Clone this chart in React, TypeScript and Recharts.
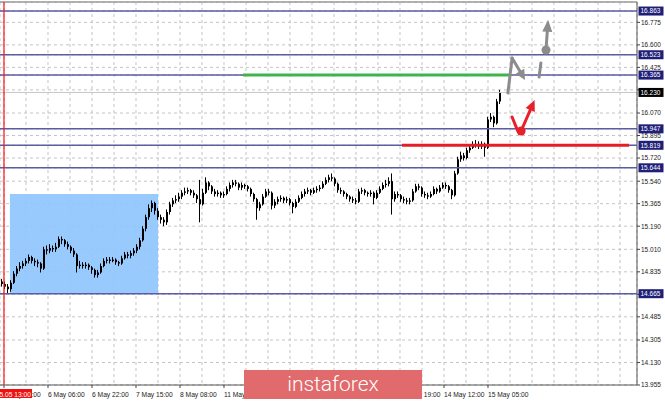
import React from 'react';
import {
  ComposedChart,
  Bar,
  XAxis,
  YAxis,
  CartesianGrid,
  ReferenceLine,
  ReferenceArea,
  ReferenceDot,
} from 'recharts';

// ---- candle data (hourly bars) ----
const opens = [
  14.76, 14.74, 14.72, 14.70, 14.75, 14.82, 14.86, 14.88, 14.90, 14.92,
  14.95, 14.92, 14.91, 14.90, 14.86, 15.01, 15.00, 15.02, 15.01, 15.03,
  15.09, 15.08, 15.05, 15.03, 15.00, 14.97, 14.88, 14.89, 14.88, 14.89,
  14.87, 14.85, 14.81, 14.83, 14.88, 14.92, 14.93, 14.92, 14.93, 14.91,
  14.90, 14.94, 14.97, 14.96, 14.98, 15.00, 15.03, 15.08, 15.17, 15.26,
  15.33, 15.37, 15.31, 15.26, 15.24, 15.22, 15.30, 15.36, 15.39, 15.40,
  15.42, 15.45, 15.46, 15.47, 15.45, 15.43, 15.40, 15.36, 15.45, 15.53,
  15.50, 15.46, 15.44, 15.45, 15.43, 15.44, 15.48, 15.51, 15.53, 15.52,
  15.49, 15.51, 15.50, 15.48, 15.44, 15.40, 15.33, 15.36, 15.42, 15.46,
  15.45, 15.35, 15.38, 15.40, 15.41, 15.39, 15.40, 15.37, 15.34, 15.38,
  15.41, 15.44, 15.46, 15.47, 15.45, 15.47, 15.48, 15.49, 15.52, 15.55,
  15.57, 15.56, 15.52, 15.47, 15.46, 15.44, 15.42, 15.40, 15.39, 15.38,
  15.46, 15.47, 15.45, 15.44, 15.45, 15.41, 15.45, 15.48, 15.51, 15.52,
  15.54, 15.40, 15.44, 15.43, 15.40, 15.39, 15.38, 15.39, 15.46, 15.50,
  15.49, 15.44, 15.43, 15.42, 15.44, 15.48, 15.46, 15.49, 15.51, 15.50,
  15.47, 15.43, 15.60, 15.71, 15.74, 15.72, 15.78, 15.80, 15.82, 15.83,
  15.81, 15.83, 15.80, 16.02, 16.04, 15.99, 16.16,
];
const highs = [
  14.78, 14.76, 14.74, 14.77, 14.84, 14.88, 14.91, 14.92, 14.94, 14.97,
  14.96, 14.94, 14.93, 14.91, 15.03, 15.04, 15.05, 15.04, 15.06, 15.11,
  15.11, 15.09, 15.07, 15.04, 15.02, 14.98, 14.92, 14.91, 14.91, 14.90,
  14.88, 14.86, 14.85, 14.90, 14.94, 14.95, 14.95, 14.95, 14.94, 14.92,
  14.96, 14.99, 14.99, 15.00, 15.02, 15.05, 15.10, 15.19, 15.28, 15.36,
  15.39, 15.38, 15.33, 15.28, 15.26, 15.32, 15.38, 15.41, 15.43, 15.45,
  15.47, 15.49, 15.49, 15.48, 15.47, 15.44, 15.55, 15.48, 15.57, 15.54,
  15.51, 15.48, 15.47, 15.46, 15.46, 15.50, 15.53, 15.55, 15.55, 15.53,
  15.53, 15.52, 15.51, 15.49, 15.45, 15.41, 15.38, 15.44, 15.48, 15.48,
  15.46, 15.40, 15.42, 15.43, 15.42, 15.42, 15.41, 15.38, 15.40, 15.43,
  15.46, 15.48, 15.49, 15.48, 15.49, 15.50, 15.51, 15.54, 15.57, 15.59,
  15.60, 15.57, 15.53, 15.49, 15.47, 15.45, 15.43, 15.42, 15.41, 15.48,
  15.49, 15.48, 15.46, 15.47, 15.46, 15.47, 15.50, 15.53, 15.55, 15.57,
  15.60, 15.46, 15.46, 15.44, 15.42, 15.41, 15.41, 15.48, 15.52, 15.52,
  15.50, 15.46, 15.45, 15.46, 15.50, 15.49, 15.51, 15.53, 15.53, 15.51,
  15.48, 15.62, 15.73, 15.77, 15.76, 15.80, 15.82, 15.85, 15.86, 15.85,
  15.85, 15.84, 16.04, 16.07, 16.05, 16.18, 16.25,
];
const lows = [
  14.72, 14.70, 14.67, 14.68, 14.74, 14.80, 14.84, 14.86, 14.88, 14.90,
  14.90, 14.88, 14.87, 14.83, 14.85, 14.97, 14.98, 14.99, 14.99, 15.02,
  15.05, 15.03, 15.01, 14.98, 14.95, 14.83, 14.86, 14.86, 14.86, 14.85,
  14.82, 14.79, 14.79, 14.82, 14.87, 14.90, 14.90, 14.91, 14.89, 14.88,
  14.89, 14.93, 14.94, 14.94, 14.96, 14.98, 15.01, 15.07, 15.15, 15.24,
  15.30, 15.28, 15.24, 15.21, 15.19, 15.20, 15.28, 15.34, 15.37, 15.38,
  15.40, 15.43, 15.44, 15.43, 15.41, 15.37, 15.22, 15.35, 15.44, 15.47,
  15.44, 15.42, 15.42, 15.41, 15.41, 15.43, 15.46, 15.49, 15.50, 15.47,
  15.47, 15.48, 15.46, 15.42, 15.38, 15.24, 15.31, 15.35, 15.41, 15.43,
  15.32, 15.33, 15.36, 15.38, 15.37, 15.37, 15.35, 15.29, 15.33, 15.37,
  15.40, 15.42, 15.44, 15.43, 15.44, 15.45, 15.46, 15.48, 15.51, 15.53,
  15.54, 15.50, 15.45, 15.44, 15.42, 15.40, 15.38, 15.37, 15.36, 15.37,
  15.44, 15.43, 15.42, 15.42, 15.36, 15.40, 15.44, 15.47, 15.49, 15.50,
  15.28, 15.38, 15.41, 15.38, 15.37, 15.36, 15.36, 15.38, 15.45, 15.47,
  15.42, 15.41, 15.40, 15.41, 15.43, 15.44, 15.45, 15.48, 15.48, 15.45,
  15.40, 15.42, 15.59, 15.69, 15.70, 15.71, 15.76, 15.79, 15.80, 15.79,
  15.79, 15.73, 15.79, 16.00, 15.96, 15.98, 16.14,
];
const closes = [
  14.74, 14.72, 14.70, 14.75, 14.82, 14.86, 14.88, 14.90, 14.92, 14.95,
  14.92, 14.91, 14.90, 14.86, 15.01, 15.00, 15.02, 15.01, 15.03, 15.09,
  15.08, 15.05, 15.03, 15.00, 14.97, 14.88, 14.89, 14.88, 14.89, 14.87,
  14.85, 14.81, 14.83, 14.88, 14.92, 14.93, 14.92, 14.93, 14.91, 14.90,
  14.94, 14.97, 14.96, 14.98, 15.00, 15.03, 15.08, 15.17, 15.26, 15.33,
  15.37, 15.31, 15.26, 15.24, 15.22, 15.30, 15.36, 15.39, 15.40, 15.42,
  15.45, 15.46, 15.47, 15.45, 15.43, 15.40, 15.36, 15.45, 15.53, 15.50,
  15.46, 15.44, 15.45, 15.43, 15.44, 15.48, 15.51, 15.53, 15.52, 15.49,
  15.51, 15.50, 15.48, 15.44, 15.40, 15.33, 15.36, 15.42, 15.46, 15.45,
  15.35, 15.38, 15.40, 15.41, 15.39, 15.40, 15.37, 15.34, 15.38, 15.41,
  15.44, 15.46, 15.47, 15.45, 15.47, 15.48, 15.49, 15.52, 15.55, 15.57,
  15.56, 15.52, 15.47, 15.46, 15.44, 15.42, 15.40, 15.39, 15.38, 15.46,
  15.47, 15.45, 15.44, 15.45, 15.41, 15.45, 15.48, 15.51, 15.52, 15.54,
  15.40, 15.44, 15.43, 15.40, 15.39, 15.38, 15.39, 15.46, 15.50, 15.49,
  15.44, 15.43, 15.42, 15.44, 15.48, 15.46, 15.49, 15.51, 15.50, 15.47,
  15.43, 15.60, 15.71, 15.74, 15.72, 15.78, 15.80, 15.82, 15.83, 15.81,
  15.83, 15.80, 16.02, 16.04, 15.99, 16.16, 16.23,
];

// ---- axis ticks / labels (labels fully hidden by the logo in the reference are blank) ----
const xLabels = [
  '5 May 14:00', '6 May 06:00', '6 May 22:00', '7 May 15:00', '8 May 08:00',
  '11 May 01:00', '', '', '', '13 May 19:00',
  '14 May 12:00', '15 May 05:00',
];
const crosshairLabel = '05.05 13:00';
const yGridTicks = [13.955, 14.13, 14.305, 14.485, 14.66, 14.835, 15.01, 15.19, 15.365, 15.54, 15.72, 15.895, 16.07, 16.25, 16.425, 16.6, 16.775];
const yGridLabels = ['13.955', '14.130', '14.305', '14.485', '', '14.835', '15.010', '15.190', '15.365', '15.540', '15.720', '15.895', '16.070', '', '16.425', '16.600', '16.775'];
const levels = [16.863, 16.523, 16.365, 15.947, 15.819, 15.644, 14.665];
const levelLabels = ['16.863', '16.523', '16.365', '15.947', '15.819', '15.644', '14.665'];
const bidPrice = 16.23;
const bidLabel = '16.230';

// ---- annotations (bar index units / price) ----
const rangeBox = { x1: 2.8, x2: 52.2, y1: 14.665, y2: 15.44 };
const greenLevel = { x1: 80.5, x2: 169.5, y: 16.365 };
const redLevel = { x1: 133.5, x2: 209.2, y: 15.819 };
const grayPath = [
  { x: 168.8, y: 16.226 },
  { x: 170.2, y: 16.498 },
  { x: 174.5, y: 16.327 },
];
const grayDash = [
  { x: 179.2, y: 16.35 },
  { x: 179.8, y: 16.459 },
];
const grayDot = { x: 181.5, y: 16.56 };
const grayArrowTip = { x: 182.2, y: 16.795 };
const redV = [
  { x: 170.2, y: 16.039 },
  { x: 172.0, y: 15.935 },
];
const redDot = { x: 173.2, y: 15.93 };
const redArrowTip = { x: 177.7, y: 16.171 };

const X_MIN = -0.5;
const X_MAX = 211.8333;
const Y_MIN = 13.955;
const Y_MAX = 16.9333;
const xTicks = Array.from({ length: 29 }, (_, k) => 0.8333 + (k * 22) / 3);

const candles = closes.map((c, i) => ({
  i,
  o: opens[i],
  h: highs[i],
  l: lows[i],
  c,
  range: [lows[i], highs[i]],
}));

const FONT = '"Liberation Sans", Arial, sans-serif';
const GRAY = '#8c8c8c';
const RED = '#e8202a';

const Candle = (props: any) => {
  const { x, y, width, height, payload } = props;
  if (!payload || x == null || y == null) return null;
  const top = Math.min(y, y + height);
  const hgt = Math.abs(height);
  const span = payload.h - payload.l;
  const k = span > 0 ? hgt / span : 0;
  const cx = x + width / 2;
  const yo = top + (payload.h - payload.o) * k;
  const yc = top + (payload.h - payload.c) * k;
  const bTop = Math.min(yo, yc);
  const bH = Math.max(1, Math.abs(yc - yo));
  return (
    <g>
      <line x1={cx} x2={cx} y1={top} y2={top + hgt} stroke="#000" strokeWidth={1} />
      <rect x={cx - 0.5} y={bTop} width={2} height={bH} fill="#000" />
    </g>
  );
};

const arrowShape = (color: string, headLen: number, headHalf: number) => (props: any) => {
  const { x1, y1, x2, y2 } = props;
  if ([x1, y1, x2, y2].some((v) => v == null || isNaN(v))) return null;
  const ang = Math.atan2(y2 - y1, x2 - x1);
  const cs = Math.cos(ang);
  const sn = Math.sin(ang);
  const bx = x2 - headLen * cs;
  const by = y2 - headLen * sn;
  const pts = `${x2},${y2} ${bx - headHalf * sn},${by + headHalf * cs} ${bx + headHalf * sn},${by - headHalf * cs}`;
  return (
    <g>
      <line x1={x1} y1={y1} x2={bx} y2={by} stroke={color} strokeWidth={3} strokeLinecap="round" />
      <polygon points={pts} fill={color} />
    </g>
  );
};

const plainShape = (color: string) => (props: any) => {
  const { x1, y1, x2, y2 } = props;
  if ([x1, y1, x2, y2].some((v) => v == null || isNaN(v))) return null;
  return <line x1={x1} y1={y1} x2={x2} y2={y2} stroke={color} strokeWidth={3} strokeLinecap="round" />;
};

const XTick = (props: any) => {
  const { x, y, index } = props;
  if (index % 2 !== 0) return null;
  const label = xLabels[index / 2];
  if (label === undefined) return null;
  return (
    <g>
      <line x1={x} x2={x} y1={y} y2={y + 3} stroke="#444" strokeWidth={1} />
      {label && (
        <text x={x} y={y + 11.5} fontSize={6.7} fontFamily={FONT} fill="#222" textAnchor="start">
          {label}
        </text>
      )}
      {index === 0 && (
        <g>
          <rect x={0} y={y + 4} width={32} height={9} fill="#f01010" />
          <text x={31} y={y + 11.5} fontSize={6.7} fontFamily={FONT} fill="#fff" textAnchor="end">
            {crosshairLabel}
          </text>
        </g>
      )}
    </g>
  );
};

const YTick = (props: any) => {
  const { x, y, payload } = props;
  const v = payload && payload.value;
  const li = levels.findIndex((l) => Math.abs(l - v) < 1e-6);
  if (li >= 0) {
    return (
      <g>
        <rect x={x + 1.5} y={y - 4.5} width={25} height={9} fill="#1f1f78" />
        <text x={x + 3.5} y={y + 2.4} fontSize={6.5} fontFamily={FONT} fill="#fff">
          {levelLabels[li]}
        </text>
      </g>
    );
  }
  if (Math.abs(v - bidPrice) < 1e-6) {
    return (
      <g>
        <rect x={x + 1.5} y={y - 4.5} width={25} height={9} fill="#000" />
        <text x={x + 3.5} y={y + 2.4} fontSize={6.5} fontFamily={FONT} fill="#fff">
          {bidLabel}
        </text>
      </g>
    );
  }
  const gi = yGridTicks.findIndex((t) => Math.abs(t - v) < 1e-6);
  const label = gi >= 0 ? yGridLabels[gi] : '';
  return (
    <g>
      <line x1={x} x2={x + 3} y1={y} y2={y} stroke="#444" strokeWidth={1} />
      {label && (
        <text x={x + 4} y={y + 2.4} fontSize={6.5} fontFamily={FONT} fill="#222">
          {label}
        </text>
      )}
    </g>
  );
};

export default function App() {
  const yTicks = [...yGridTicks, ...levels, bidPrice];
  return (
    <div style={{ position: 'absolute', left: 0, top: 0, width: 665, height: 401, background: '#fff', overflow: 'hidden' }}>
      <ComposedChart
        width={665}
        height={401}
        data={candles}
        margin={{ top: 2, right: 0, bottom: 0, left: 0 }}
      >
        <CartesianGrid stroke="#c4c4c4" strokeDasharray="3 3" />
        <XAxis
          type="number"
          dataKey="i"
          domain={[X_MIN, X_MAX]}
          ticks={xTicks}
          interval={0}
          tickSize={0}
          tickMargin={0}
          tickLine={false}
          axisLine={{ stroke: '#555' }}
          tick={(p: any) => <XTick {...p} />}
          height={16}
          allowDataOverflow
        />
        <YAxis
          orientation="right"
          type="number"
          domain={[Y_MIN, Y_MAX]}
          ticks={yTicks}
          interval={0}
          tickSize={0}
          tickMargin={0}
          tickLine={false}
          axisLine={{ stroke: '#555' }}
          tick={(p: any) => <YTick {...p} />}
          width={28}
          allowDataOverflow
        />
        <ReferenceArea
          x1={rangeBox.x1}
          x2={rangeBox.x2}
          y1={rangeBox.y1}
          y2={rangeBox.y2}
          fill="#8fc6fd"
          fillOpacity={0.92}
          stroke="none"
        />
        <Bar dataKey="range" barSize={3} shape={Candle} isAnimationActive={false} />
        <ReferenceLine y={Y_MAX} stroke="#9a9a9a" strokeWidth={1.5} />
        <ReferenceLine y={bidPrice} stroke="#c8c8c8" strokeWidth={1} />
        {levels.map((lv) => (
          <ReferenceLine key={lv} y={lv} stroke="#5c5ca6" strokeWidth={1.5} />
        ))}
        <ReferenceLine x={xTicks[0]} stroke="#ff1010" strokeWidth={1.2} />
        <ReferenceLine
          segment={[{ x: greenLevel.x1, y: greenLevel.y }, { x: greenLevel.x2, y: greenLevel.y }]}
          stroke="#3db54a"
          strokeWidth={3}
        />
        <ReferenceLine
          segment={[{ x: redLevel.x1, y: redLevel.y }, { x: redLevel.x2, y: redLevel.y }]}
          stroke="#e41e26"
          strokeWidth={3}
        />
        <ReferenceLine segment={[grayPath[0], grayPath[1]]} shape={plainShape(GRAY)} />
        <ReferenceLine segment={[grayPath[1], grayPath[2]]} shape={arrowShape(GRAY, 10, 5)} />
        <ReferenceLine segment={[grayDash[0], grayDash[1]]} shape={plainShape(GRAY)} />
        <ReferenceLine segment={[grayDot, grayArrowTip]} shape={arrowShape(GRAY, 12, 5)} />
        <ReferenceDot x={grayDot.x} y={grayDot.y} r={4.5} fill={GRAY} stroke="none" />
        <ReferenceLine segment={[redV[0], redV[1]]} shape={plainShape(RED)} />
        <ReferenceLine segment={[redDot, redArrowTip]} shape={arrowShape(RED, 11, 5)} />
        <ReferenceDot x={redDot.x} y={redDot.y} r={4.5} fill={RED} stroke="none" />
      </ComposedChart>
      <div
        style={{
          position: 'absolute',
          left: 244,
          top: 370,
          width: 178,
          height: 29,
          background: '#e06a6c',
          color: '#fff',
          fontFamily: 'Roboto, "Open Sans", sans-serif',
          fontWeight: 300,
          fontSize: 21,
          lineHeight: '28px',
          textAlign: 'center',
        }}
      >
        instaforex
      </div>
    </div>
  );
}
